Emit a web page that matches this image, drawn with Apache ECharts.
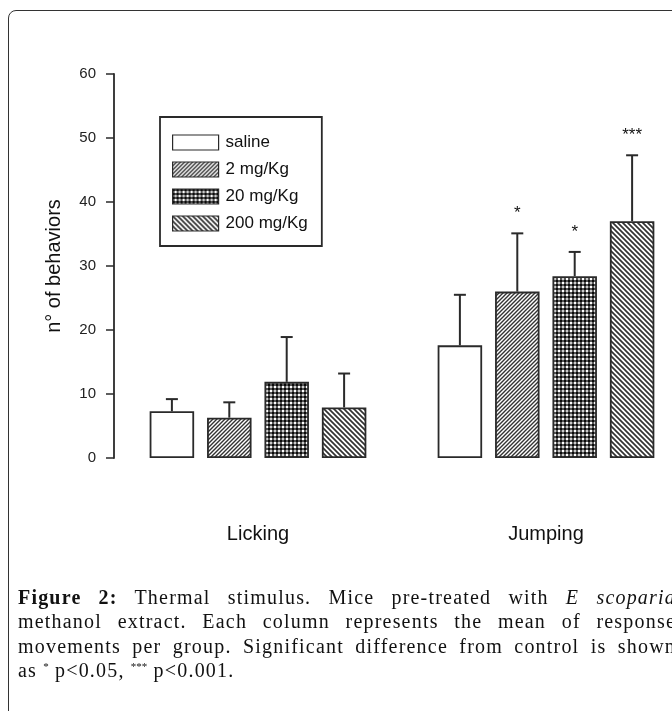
<!DOCTYPE html>
<html>
<head>
<meta charset="utf-8">
<script src="https://cdn.jsdelivr.net/npm/echarts@6/dist/echarts.min.js"></script>
<style>
  html, body { margin: 0; padding: 0; background: #fff; overflow: hidden; }
  #wrap { position: relative; width: 672px; height: 711px; overflow: hidden; }
  #chart { position: absolute; left: 0; top: 0; width: 672px; height: 711px; }
  #frame {
    position: absolute; left: 8px; top: 10px; width: 720px; height: 740px;
    border: 1.5px solid #333; border-radius: 8px; pointer-events: none;
  }
  #caption {
    position: absolute; left: 18px; top: 585px; width: 658px;
    font-family: "Liberation Serif", "DejaVu Serif", serif; font-size: 20px;
    letter-spacing: 1.2px; line-height: 24.4px; color: #111;
  }
  #caption .ln { text-align: justify; text-align-last: justify; white-space: nowrap; }
  #caption .ln.last { text-align-last: left; }
  #caption sup { font-size: 11px; vertical-align: 7px; line-height: 0; letter-spacing: 0; }
</style>
</head>
<body>
<div id="wrap">
  <div id="chart"></div>
  <div id="frame"></div>
  <div id="caption">
    <div class="ln" style="white-space:normal"><b>Figure 2:</b> Thermal stimulus. Mice pre-treated with <i>E scoparia</i></div>
    <div class="ln" style="white-space:normal">methanol extract. Each column represents the mean of response</div>
    <div class="ln" style="white-space:normal">movements per group. Significant difference from control is shown</div>
    <div class="ln last">as <sup>*</sup> p&lt;0.05, <sup>***</sup> p&lt;0.001.</div>
  </div>
</div>
<script>
const categories = ['Licking', 'Jumping'];
const groups = ['saline', '2 mg/Kg', '20 mg/Kg', '200 mg/Kg'];

// mean per category (Licking, Jumping)
const salineMean = [7.3, 17.6];
const mg2Mean = [6.3, 26.0];
const mg20Mean = [11.9, 28.4];
const mg200Mean = [7.9, 37.0];

// upper error (SD) per category
const salineErr = [1.9, 7.9];
const mg2Err = [2.4, 9.1];
const mg20Err = [7.0, 3.8];
const mg200Err = [5.3, 10.3];

// significance marks per category
const salineStars = ['', ''];
const mg2Stars = ['', '*'];
const mg20Stars = ['', '*'];
const mg200Stars = ['', '***'];

const yTicks = [0, 10, 20, 30, 40, 50, 60];

const means = [salineMean, mg2Mean, mg20Mean, mg200Mean];
const errs = [salineErr, mg2Err, mg20Err, mg200Err];
const stars = [salineStars, mg2Stars, mg20Stars, mg200Stars];

const BAR_W = 44.5;
const BAR_GAP = 0.29;
const INK = '#2a2a2a';

function makeHatch(size, dir, lw) {
  const c = document.createElement('canvas');
  c.width = size;
  c.height = size;
  const ctx = c.getContext('2d');
  ctx.fillStyle = '#fff';
  ctx.fillRect(0, 0, size, size);
  ctx.strokeStyle = '#333';
  ctx.lineWidth = lw;
  ctx.beginPath();
  if (dir === 'up') {
    ctx.moveTo(-1, size + 1); ctx.lineTo(size + 1, -1);
    ctx.moveTo(-1, 1); ctx.lineTo(1, -1);
    ctx.moveTo(size - 1, size + 1); ctx.lineTo(size + 1, size - 1);
  } else {
    ctx.moveTo(-1, -1); ctx.lineTo(size + 1, size + 1);
    ctx.moveTo(size - 1, -1); ctx.lineTo(size + 1, 1);
    ctx.moveTo(-1, size - 1); ctx.lineTo(1, size + 1);
  }
  ctx.stroke();
  return c;
}

function makeCheck() {
  const c = document.createElement('canvas');
  c.width = 8;
  c.height = 8;
  const ctx = c.getContext('2d');
  ctx.fillStyle = '#555';
  ctx.fillRect(0, 0, 8, 8);
  ctx.fillStyle = '#0a0a0a';
  ctx.fillRect(0, 0, 2, 2);
  ctx.fillRect(4, 4, 2, 2);
  ctx.fillRect(4, 0, 2, 2);
  ctx.fillRect(0, 4, 2, 2);
  ctx.fillStyle = '#fff';
  ctx.fillRect(2, 2, 2, 2);
  ctx.fillRect(6, 6, 2, 2);
  ctx.fillStyle = '#ccc';
  ctx.fillRect(6, 2, 2, 2);
  ctx.fillRect(2, 6, 2, 2);
  return c;
}

const fills = [
  '#fff',
  { image: makeHatch(4, 'up', 1.4), repeat: 'repeat' },
  { image: makeCheck(), repeat: 'repeat' },
  { image: makeHatch(5, 'down', 1.7), repeat: 'repeat' }
];

const barSeries = groups.map((name, gi) => ({
  name: name,
  type: 'bar',
  data: means[gi],
  barWidth: BAR_W,
  barGap: (BAR_GAP * 100) + '%',
  itemStyle: { color: fills[gi], borderColor: INK, borderWidth: 1.8 },
  emphasis: { disabled: true },
  z: 2
}));

const errData = [];
groups.forEach((g, gi) => {
  categories.forEach((c, ci) => {
    errData.push([ci, gi, means[gi][ci], errs[gi][ci]]);
  });
});

const errSeries = {
  type: 'custom',
  name: 'err',
  data: errData,
  encode: { x: 0, y: 2 },
  z: 5,
  silent: true,
  renderItem: (params, api) => {
    const ci = api.value(0);
    const gi = api.value(1);
    const m = api.value(2);
    const sd = api.value(3);
    const step = BAR_W * (1 + BAR_GAP);
    const base = api.coord([ci, m]);
    const top = api.coord([ci, m + sd]);
    const x = base[0] + (gi - 1.5) * step;
    const mark = stars[gi][ci];
    const children = [
      { type: 'line', shape: { x1: x, y1: base[1], x2: x, y2: top[1] }, style: { stroke: INK, lineWidth: 2 } },
      { type: 'line', shape: { x1: x - 6, y1: top[1], x2: x + 6, y2: top[1] }, style: { stroke: INK, lineWidth: 2 } }
    ];
    if (mark) {
      children.push({
        type: 'text',
        style: {
          text: mark, x: x, y: top[1] - 20,
          align: 'center', verticalAlign: 'middle',
          fontSize: 17, fontFamily: 'Liberation Sans', fill: '#111'
        }
      });
    }
    return { type: 'group', children: children };
  }
};

const chart = echarts.init(document.getElementById('chart'), null, { renderer: 'canvas' });
chart.setOption({
  animation: false,
  backgroundColor: 'transparent',
  textStyle: { fontFamily: 'Liberation Sans' },
  legend: {
    data: groups,
    orient: 'vertical',
    left: 160,
    top: 117,
    padding: [17, 14, 14, 12],
    itemWidth: 46,
    itemHeight: 15,
    itemGap: 10,
    borderColor: INK,
    borderWidth: 1.8,
    borderRadius: 0,
    icon: 'rect',
    selectedMode: false,
    itemStyle: { borderColor: INK, borderWidth: 1.2 },
    textStyle: { fontSize: 17, color: '#111', fontFamily: 'Liberation Sans', padding: [0, 0, 0, 2] }
  },
  grid: { left: 114, top: 74, width: 576, bottom: 253, outerBoundsMode: 'none', containLabel: false },
  xAxis: {
    type: 'category',
    data: categories,
    axisLine: { show: false },
    axisTick: { show: false },
    axisLabel: { fontSize: 20, color: '#111', margin: 66, fontFamily: 'Liberation Sans' }
  },
  yAxis: {
    type: 'value',
    min: yTicks[0],
    max: yTicks[yTicks.length - 1],
    interval: 10,
    name: 'n° of behaviors',
    nameLocation: 'middle',
    nameRotate: 90,
    nameGap: 50,
    nameTextStyle: { fontSize: 20, color: '#111', fontFamily: 'Liberation Sans' },
    axisLine: { show: true, lineStyle: { color: INK, width: 1.8 } },
    axisTick: { show: true, length: 8, lineStyle: { color: INK, width: 1.5 } },
    axisLabel: { fontSize: 15, color: '#222', margin: 18, fontFamily: 'Liberation Sans' },
    splitLine: { show: false }
  },
  series: [...barSeries, errSeries]
});
</script>
</body>
</html>
